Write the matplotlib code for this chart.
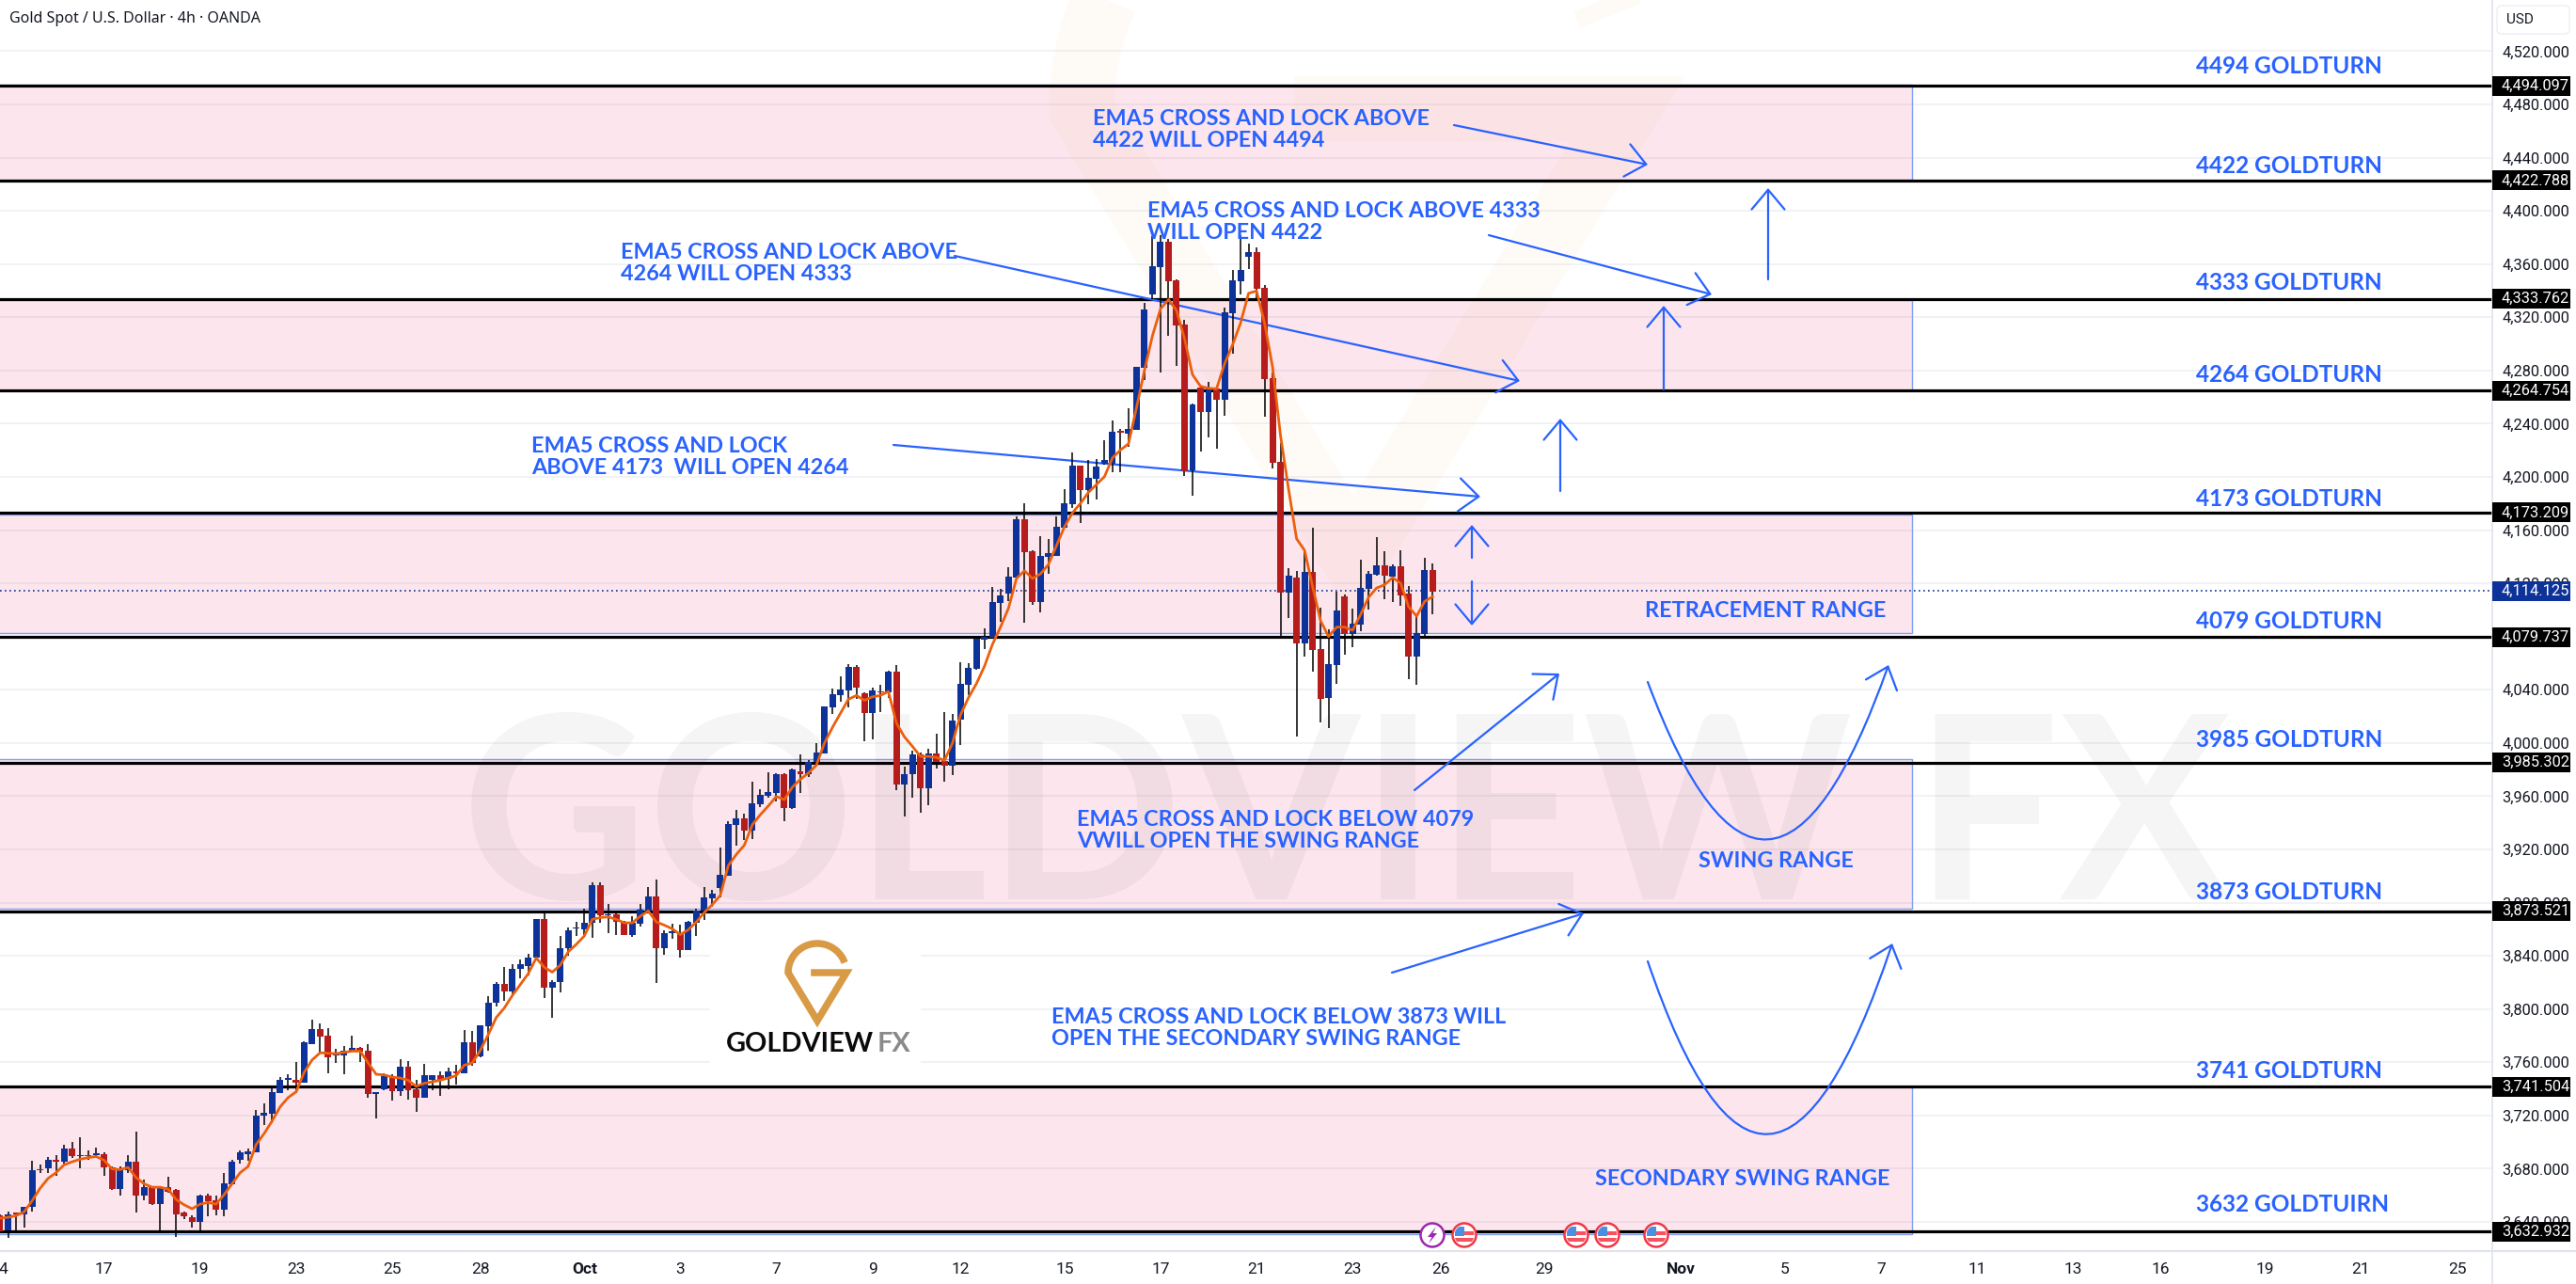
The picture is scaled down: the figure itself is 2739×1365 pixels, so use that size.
import numpy as np
import matplotlib
matplotlib.use("Agg")
import matplotlib.pyplot as plt
from matplotlib.lines import Line2D
from matplotlib.patches import Rectangle, Circle, FancyArrowPatch, FancyBboxPatch, Polygon
from matplotlib.path import Path
from matplotlib.transforms import Affine2D

W, H = 2739, 1365

# 4h candles
opens = [3645,3634,3646.5,3646,3651,3679.5,3680,3687,3685,3695,
         3689.5,3690,3690.5,3691,3681,3665,3679,3685,3660,3666,
         3653.5,3666,3664,3647,3643.5,3640,3660,3656,3649,3668,
         3687,3691,3692,3720,3721,3737,3747,3747,3744.5,3774,
         3785,3780,3765.5,3765.5,3768,3771,3768.5,3736.4,3740,3749.5,
         3738,3757,3739.5,3733,3747,3750,3747.5,3753.5,3752,3775,
         3764.5,3787,3805,3819,3813.5,3830,3832.5,3839,3867.5,3816,
         3820,3846,3860.7,3860,3865,3893,3870.5,3871,3865,3855.5,
         3864,3874,3884.5,3845.5,3857.3,3857,3844.5,3865,3874,3883.5,
         3891,3900,3938.5,3943.5,3934,3954,3960.5,3962.5,3976.5,3951,
         3979,3976.5,3985.5,3992,4027,4036,4039.5,4057,4037.5,4022.5,
         4039,4038,4053.5,3968.5,3976.5,3991.5,3966,3992,3986.5,3983,
         4017.5,4043.5,4055.5,4077.5,4079,4105.5,4112.5,4124.5,4168,4144,
         4106,4140,4140.5,4162,4179.5,4208.5,4190,4198.5,4210,4210,
         4233.9,4232.5,4235.5,4282,4337,4357.5,4376.5,4347.5,4314.5,4205,
         4267,4248.5,4266.5,4258,4323,4347,4365.5,4369,4342,4274,
         4211,4113,4124.5,4075,4128.5,4070.5,4034,4058.5,4110,4082,
         4089,4116,4126.5,4133.5,4125,4133,4112.5,4065,4082,4130]
highs = [3646,3648,3647,3651,3686,3683,3689,3690,3698,3700,
         3704,3694,3696,3692,3681.5,3682,3690,3708,3672,3666.5,
         3667,3674,3665,3647.5,3645,3660.5,3661,3660,3677,3687,
         3693.5,3695.5,3724,3729,3740.5,3749,3751,3760,3775.5,3792,
         3789,3786,3770,3772,3780,3771.5,3773.5,3737,3752,3751,
         3762,3761,3746.5,3759,3750.5,3753.5,3756,3758,3784,3783.5,
         3788,3810,3820,3831.5,3834,3837.5,3841.5,3868,3873,3822,
         3855,3861,3865.5,3875.5,3895.5,3895.5,3879,3872,3866.5,3870,
         3879,3892,3897.5,3859.5,3864,3863.5,3866,3875.5,3892,3889.5,
         3921.5,3941,3949.5,3947,3971,3965,3978,3977,3977,3980.5,
         3991.5,3987.5,4000,4027.5,4041,4050,4059,4058.5,4038,4041.5,
         4043.5,4054.5,4058.5,3982,3994.5,3993,3995.5,4007,4023,4022,
         4060.5,4060,4080,4086,4117.5,4116,4132,4170.5,4180,4145,
         4155.5,4153.5,4170,4191,4218.5,4208.5,4212.5,4213.5,4227.5,4242.5,
         4236,4251.5,4283,4330.5,4381,4381.5,4379,4348.5,4318,4255,
         4268.5,4271.5,4267,4327,4355.5,4381.5,4375.5,4372.5,4344,4278.5,
         4225.5,4131.5,4129.5,4143.5,4162,4101.5,4085.5,4113.5,4111.5,4101,
         4138,4129.5,4154.5,4144,4134,4145,4118,4094.5,4139,4135]
lows = [3632,3628,3634,3636,3648,3677,3677,3675,3684,3688,
        3680,3687,3689,3675,3664,3660,3677,3647,3656,3653,
        3634,3662,3629,3642,3636,3634,3644,3645,3644,3668,
        3684,3686,3692,3713,3714,3737,3739,3737,3744.5,3774,
        3766.5,3752,3759.5,3751,3768,3760.5,3733,3718,3739,3731,
        3735,3732,3723,3733,3739,3735,3740,3743,3752,3757.5,
        3764,3769,3802,3806.5,3810,3823,3825.5,3838.5,3808,3793.5,
        3812.5,3840,3855,3856,3853.5,3865,3857,3855.5,3855.5,3854,
        3862,3874,3819.5,3841,3853,3839,3844.5,3855,3867,3877,
        3884,3900,3923,3927,3928,3952,3959,3956,3941.5,3950.5,
        3962.5,3974.5,3985.5,3992,4022,4031,4027,4033,4001,4003,
        4023.5,4034,3964.5,3945,3959,3947.5,3953,3981,3971,3976,
        3998.5,4036,4055,4070.5,4079,4091,4106.5,4124,4090.5,4104,
        4098,4127,4140.5,4162,4176.5,4165,4179.5,4183,4209.5,4203.5,
        4203.5,4222.5,4235,4273,4333.5,4278.5,4306,4283.5,4201,4186,
        4219,4229.5,4221.5,4246,4292.5,4337,4356,4333.5,4245.5,4206.5,
        4080,4094,4005,4065,4053.5,4015.5,4011,4044.5,4066.5,4072,
        4084,4100.5,4126,4108,4106,4103,4048,4043.5,4079.5,4097]
closes = [3633,3646,3646,3651,3679,3679,3687,3685,3695,3689.5,
          3690,3689.5,3691,3681,3665,3680,3685,3660,3666,3653.5,
          3666,3663,3646,3644,3640,3660,3655.5,3649,3669,3685,
          3692,3693,3720,3722,3737.5,3746.5,3747.5,3744.5,3775,3785,
          3779.5,3764,3766,3768.5,3771,3768,3736,3736.8,3749.5,3738,
          3757,3739,3733,3750,3750,3747,3753.5,3752,3775,3759.5,
          3788,3805,3819,3813,3830.5,3834,3839,3867.5,3816,3820,
          3846,3859,3861.2,3865,3893,3870.5,3871,3865.5,3855.5,3865,
          3874.5,3884.5,3845.5,3857,3857.7,3844,3865.5,3874,3884,3886.5,
          3901,3939,3943.5,3934,3954.5,3961,3963,3976.5,3951,3980,
          3976.5,3985.5,3993,4027.5,4036.5,4040,4057,4041.5,4022.5,4039.5,
          4038,4053.5,3968.5,3976.5,3991.5,3966,3992,3985.5,3983,4017,
          4044.5,4056.5,4078.5,4079.5,4106,4111,4125,4168,4143.5,4106,
          4140.5,4142.5,4162.5,4180,4208.5,4190,4199,4207.5,4212.5,4234,
          4233.4,4236,4282.5,4326,4358.5,4376.5,4347,4314,4204,4254.5,
          4248.5,4266.5,4258,4323.5,4347.5,4355.5,4369,4341.5,4273.5,4210.5,
          4113,4125.5,4075,4128.5,4070,4033,4059.5,4099.5,4082,4089.5,
          4116.5,4127,4133.5,4126,4133,4111,4065,4082.5,4130,4114]
ema5 = [3642.8,3643.5,3644.7,3647.5,3655.8,3665.2,3672.7,3677,3682.9,3685.2,
        3687.1,3688.3,3689.2,3686.4,3679.8,3679.3,3681,3673.4,3668.7,3666.1,
        3666.1,3664.7,3656.9,3652.9,3649.9,3653.4,3654.6,3653.4,3660.5,3668.7,
        3677,3681.7,3698.2,3706.4,3715.9,3726.5,3733.5,3737.8,3752.4,3761.8,
        3767.2,3766.8,3766.5,3767.5,3768.4,3768.4,3759.5,3751,3750.5,3748.9,
        3748.2,3746.5,3741.8,3744.2,3745.3,3746.5,3748.2,3750,3757.8,3759.5,
        3768.9,3780.7,3793.6,3800.7,3810.1,3818.4,3826.6,3838.4,3831.4,3827.8,
        3833,3843.1,3848.6,3854.9,3867.4,3868.8,3869.3,3867.4,3864.8,3864.8,
        3869.8,3873.8,3865.5,3863.1,3860.3,3856,3859.6,3865.5,3872.6,3878.5,
        3885.5,3907.9,3916.2,3923.2,3938.6,3946.1,3952.7,3959.8,3957.4,3966.8,
        3972.7,3977.4,3983.3,3999.8,4011.6,4022.2,4032.8,4035.7,4032.1,4034.7,
        4035.7,4038.7,4015,4004.6,3997.5,3989.9,3989.9,3989.2,3986.9,3999.8,
        4021,4034,4044.6,4057.6,4074.1,4087,4101.2,4123.6,4129.5,4123.6,
        4127.1,4134.2,4148.3,4162.5,4173,4180.1,4188.4,4194.3,4200.2,4214.3,
        4220.2,4224.9,4252,4280.3,4306.2,4326.3,4333.3,4325.1,4303.9,4276.8,
        4268.1,4266.6,4266.2,4285,4299.2,4315.6,4338,4339.7,4315.6,4282.6,
        4230.8,4190.8,4153.5,4144.8,4117.7,4091.8,4080,4087.1,4087.1,4084.7,
        4096.5,4109.5,4116.5,4118.9,4124.3,4120.1,4102.4,4095.3,4106.4,4110]

levels = [4494.097, 4422.788, 4333.762, 4264.754, 4173.209, 4079.737, 3985.302, 3873.521, 3741.504, 3632.932]
level_names = ["4494 GOLDTURN", "4422 GOLDTURN", "4333 GOLDTURN", "4264 GOLDTURN", "4173 GOLDTURN",
               "4079 GOLDTURN", "3985 GOLDTURN", "3873 GOLDTURN", "3741 GOLDTURN", "3632 GOLDTUIRN"]
level_text_y = [71, 177, 301, 398, 530, 661, 787, 949, 1138, 1281]
zone_tops = [4494.5, 4333.2, 4171.8, 3987.6, 3741.9]
zone_bottoms = [4423.5, 4265, 4082.3, 3875.7, 3631]
last_price = 4114.125
price_ticks = np.arange(3640, 4521, 40)

date_labels = ["4","17","19","23","25","28","Oct","3","7","9","12","15","17","21",
               "23","26","29","Nov","5","7","11","13","16","19","21","25"]
date_pos = [0.4,13,25,37,49,60,73,85,97,109,120,133,145,157,
            169,180,193,210,223,235,247,259,270,283,295,307]

BLUE = "#2962ff"
UP = "#0d3299"
DOWN = "#b71c1c"
TEXTC = "#131722"
FONT = "Lato"

fig = plt.figure(figsize=(W/100, H/100), dpi=100)
ax = fig.add_axes([0, (H-1330)/H, 2649.5/W, 1330/H])
pix = Affine2D().scale(1/W, -1/H).translate(0, 1) + fig.transFigure

CANDLE_STEP = 8.51
ax.set_xlim(0, 2649.5/CANDLE_STEP)
ax.set_ylim(4494.097 - 1239/1.4144, 4494.097 + 91/1.4144)
for s in ax.spines.values():
    s.set_visible(False)
ax.set_axisbelow(True)

ax.yaxis.tick_right()
ax.set_yticks(price_ticks)
ax.set_yticklabels([f"{v:,.3f}" for v in price_ticks], fontsize=11.8, color=TEXTC, family="Roboto")
ax.tick_params(axis="y", length=0, pad=8)
ax.set_xticks(date_pos)
ax.set_xticklabels(date_labels, fontsize=12.5, color=TEXTC, family="Roboto")
for lab in ax.get_xticklabels():
    if lab.get_text() in ("Oct", "Nov"):
        lab.set_fontweight("bold")
ax.tick_params(axis="x", length=0, pad=9)
ax.grid(axis="y", color="#eff1f5", lw=1.3)

# zones
zone_end = 2033/CANDLE_STEP
for top, bot in zip(zone_tops, zone_bottoms):
    ax.add_patch(Rectangle((-3, bot), zone_end+3, top-bot, facecolor=(0.91, 0.12, 0.39, 0.115),
                           edgecolor="#7ea2f5", lw=1.0, zorder=1))


def draw_logo(cx, cy, r, lw, color, alpha=1.0, z=2.2):
    # pin shape: open ring, point at the bottom, bar going in
    ang = np.radians(np.linspace(20, 180, 40))
    xs = list(cx + r*np.cos(ang)) + [cx, cx + r, cx - 0.22*r]
    ys = list(cy - r*np.sin(ang)) + [cy + 1.65*r, cy, cy]
    ax.add_line(Line2D(xs, ys, transform=pix, color=color, lw=lw, alpha=alpha, zorder=z,
                       solid_joinstyle="miter", solid_capstyle="butt"))


# watermark
ax.text(1432, 878, "GOLDVIEW FX", transform=pix, fontsize=196, family=FONT, fontweight="bold",
        color="black", alpha=0.04, ha="center", va="center", zorder=1.5)
draw_logo(1440, 116, 290, 50, "#f5a623", alpha=0.035, z=1.5)

for lv in levels:
    ax.axhline(lv, color="black", lw=2.3, zorder=2)
ax.axhline(last_price, color=UP, lw=1.2, ls=(0, (1, 2)), zorder=2)

# logo block
ax.add_patch(Rectangle((755, 975), 224, 175, transform=pix, facecolor="white", edgecolor="none", zorder=1.8))
draw_logo(869, 1034, 31, 5.4, "#d99a45")
ax.text(772, 1110, "GOLDVIEW", transform=pix, fontsize=20.8, family=FONT, fontweight="bold", color="#0a0a0a",
        ha="left", va="center", zorder=2.2)
ax.text(933, 1110, "FX", transform=pix, fontsize=20.8, family=FONT, fontweight="bold", color="#8a8a8a",
        ha="left", va="center", zorder=2.2)


def arrow(a, b):
    ax.add_patch(FancyArrowPatch(a, b, transform=pix, arrowstyle="->,head_length=0.5,head_width=0.42",
                                 mutation_scale=30, color=BLUE, lw=1.6, shrinkA=0, shrinkB=0,
                                 zorder=2.5, clip_on=False))


def curve(a, c, b):
    p = Path([a, c, b], [Path.MOVETO, Path.CURVE3, Path.CURVE3])
    ax.add_patch(FancyArrowPatch(path=p, transform=pix, arrowstyle="->,head_length=0.5,head_width=0.42",
                                 mutation_scale=30, color=BLUE, lw=1.6, zorder=2.5, clip_on=False))


arrow((1546, 133), (1752, 175))
arrow((1583, 250), (1820, 313))
arrow((1015, 272), (1616, 405))
arrow((950, 473), (1574, 528))
arrow((1880, 297), (1880, 200))
arrow((1769, 414), (1769, 325))
arrow((1659, 522), (1659, 445))
arrow((1565, 593), (1565, 558))
arrow((1565, 618), (1565, 665))
arrow((1504, 840), (1658, 716))
arrow((1480, 1034), (1684, 971))
curve((1752, 725), (1880, 1068), (2008, 707))
curve((1752, 1022), (1880, 1398), (2012, 1003))

# candles
idx = np.arange(len(opens))
o, h, l, c = map(np.array, (opens, highs, lows, closes))
cols = np.where(c >= o, UP, DOWN)
ax.vlines(idx, l, h, color="black", lw=1.1, zorder=3)
body_h = np.maximum(np.abs(c-o), 0.9)
ax.bar(idx, body_h, bottom=np.minimum(o, c), width=0.82, color=cols, edgecolor="none", zorder=3.1)
ax.plot(idx, ema5, color="#ec5f0c", lw=2.0, zorder=4, solid_joinstyle="round")

# notes
for name, y in zip(level_names, level_text_y):
    ax.text(2335, y, name, transform=pix, color=BLUE, fontsize=17.6, family=FONT, fontweight="bold",
            ha="left", va="center", zorder=5)

notes = [(1162, 138, "EMA5 CROSS AND LOCK ABOVE\n4422 WILL OPEN 4494"),
         (1220, 236, "EMA5 CROSS AND LOCK ABOVE 4333\nWILL OPEN 4422"),
         (660, 280, "EMA5 CROSS AND LOCK ABOVE\n4264 WILL OPEN 4333"),
         (565, 486, "EMA5 CROSS AND LOCK \nABOVE 4173  WILL OPEN 4264"),
         (1145, 883, "EMA5 CROSS AND LOCK BELOW 4079\nVWILL OPEN THE SWING RANGE"),
         (1118, 1093, "EMA5 CROSS AND LOCK BELOW 3873 WILL\nOPEN THE SECONDARY SWING RANGE"),
         (1749, 649, "RETRACEMENT RANGE"),
         (1806, 915, "SWING RANGE"),
         (1696, 1253, "SECONDARY SWING RANGE")]
for x, y, t in notes:
    ax.text(x, y, t, transform=pix, color=BLUE, fontsize=16.8, family=FONT, fontweight="bold", ha="left",
            va="center", linespacing=1.1, zorder=5)

# price tags
for lv in levels + [last_price]:
    y = 91 + (4494.097 - lv)*1.4144
    col = UP if lv == last_price else "black"
    ax.add_patch(Rectangle((2650, y-10.5), 83, 21, transform=pix, facecolor=col, edgecolor="none",
                           clip_on=False, zorder=6))
    ax.text(2660, y, f"{lv:,.3f}", transform=pix, color="white", fontsize=11.8, family="Roboto",
            ha="left", va="center", zorder=6.1)

# frame
ax.add_line(Line2D([0, W], [1330, 1330], transform=pix, color="#e0e3eb", lw=1.5, clip_on=False, zorder=6))
ax.add_line(Line2D([2650, 2650], [0, H], transform=pix, color="#e0e3eb", lw=1.2, clip_on=False, zorder=5.5))
ax.add_patch(FancyBboxPatch((2658, 9), 71, 24, boxstyle="round,pad=3,rounding_size=5", transform=pix,
                            facecolor="white", edgecolor="#eceef3", lw=1, clip_on=False, zorder=6))
ax.text(2665, 21, "USD", transform=pix, color=TEXTC, fontsize=11, family="Roboto", ha="left", va="center", zorder=6.1)
ax.text(10, 20, "Gold Spot / U.S. Dollar · 4h · OANDA", transform=pix, color=TEXTC, fontsize=11.5,
        family="Noto Sans", fontweight="bold", ha="left", va="center", zorder=6)


# calendar marks along the bottom
def flag(x, y=1313):
    ring = Circle((x, y), 12.5, transform=pix, facecolor="white", edgecolor="#f23645", lw=1.8, zorder=7, clip_on=False)
    ax.add_patch(ring)
    clip = Circle((x, y), 10.5, transform=pix)
    parts = [Rectangle((x-10, y-9), 10, 10, facecolor="#4a90e2"),
             Rectangle((x, y-4), 11, 4, facecolor="#f7525f"),
             Rectangle((x-11, y+3), 22, 4, facecolor="#f7525f")]
    for p in parts:
        p.set_transform(pix)
        p.set_edgecolor("none")
        p.set_zorder(7.1)
        ax.add_patch(p)
        p.set_clip_path(clip)


ax.add_patch(Circle((1523, 1313), 12.5, transform=pix, facecolor="white", edgecolor="#9c27b0", lw=1.8, zorder=7, clip_on=False))
ax.add_patch(Polygon([(1527, 1304), (1518, 1315), (1522.5, 1315), (1519, 1322), (1528, 1311), (1523.5, 1311)],
                     transform=pix, facecolor="#9c27b0", edgecolor="none", zorder=7.1, clip_on=False))
for fx in (1557, 1676, 1709, 1761):
    flag(fx)

fig.savefig("out.png", dpi=100, facecolor="white")
